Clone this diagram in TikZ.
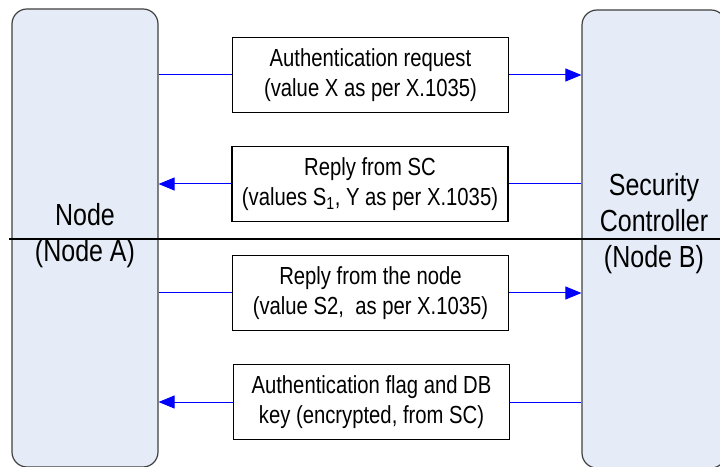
\documentclass[tikz,border=0pt]{standalone}
\usepackage{fontspec}
\setmainfont{Liberation Sans}[FakeStretch=0.82]
\usetikzlibrary{arrows.meta}
\definecolor{sidefill}{HTML}{E5ECF7}
\definecolor{sidedraw}{HTML}{404040}

\begin{document}
\begin{tikzpicture}[x=1pt,y=1pt,
  sidebox/.style={draw=sidedraw,line width=1.2pt,fill=sidefill,rounded corners=15pt,
    minimum width=146pt,minimum height=458pt,inner sep=0pt},
  msgbox/.style={draw=black,line width=1.2pt,fill=white,minimum width=276pt,
    minimum height=75pt,inner sep=0pt,align=center,font=\fontsize{24.7}{30}\selectfont},
  bigtext/.style={align=center,font=\fontsize{30.5}{36}\selectfont},
  wire/.style={draw=blue,line width=1pt},
  wirearrow/.style={wire,-{Triangle[length=16pt,width=13pt]}}]
	\useasboundingbox (0,0) rectangle (720,466);
	\clip (0,0) rectangle (720,466);

	\node[sidebox] (nodeA) at (85,228) {};
	\node[sidebox,minimum width=144pt] (nodeB) at (654,227) {};
	\node[bigtext] (nodeAtext) at (85,230.3) {Node\\(Node A)};
	\node[bigtext] (nodeBtext) at (654,242) {Security\\Controller\\(Node B)};

	\node[msgbox] (box1) at (370.5,391) {Authentication request\\(value X as per X.1035)};
	\node[msgbox] (box2) at (370,282) {Reply from SC\\(values S\textsubscript{1}, Y as per X.1035)};
	\node[msgbox] (box3) at (370.5,173) {Reply from the node\\(value S2,\ \ as per X.1035)};
	\node[msgbox] (box4) at (371.5,64) {Authentication flag and DB\\key (encrypted, from SC)};

	\draw[wire] (nodeA.east |- box1.west) -- (box1.west);
	\draw[wirearrow] (box1.east) -- (box1.east -| nodeB.west);
	\draw[wire] (nodeB.west |- box2.east) -- (box2.east);
	\draw[wirearrow] (box2.west) -- (box2.west -| nodeA.east);
	\draw[wire] (nodeA.east |- box3.west) -- (box3.west);
	\draw[wirearrow] (box3.east) -- (box3.east -| nodeB.west);
	\draw[wire] (nodeB.west |- box4.east) -- (box4.east);
	\draw[wirearrow] (box4.west) -- (box4.west -| nodeA.east);

	\coordinate (divL) at (9,227);
	\coordinate (divR) at (720,227);
	\draw[line width=1.5pt] (divL) -- (divR);
\end{tikzpicture}
\end{document}
